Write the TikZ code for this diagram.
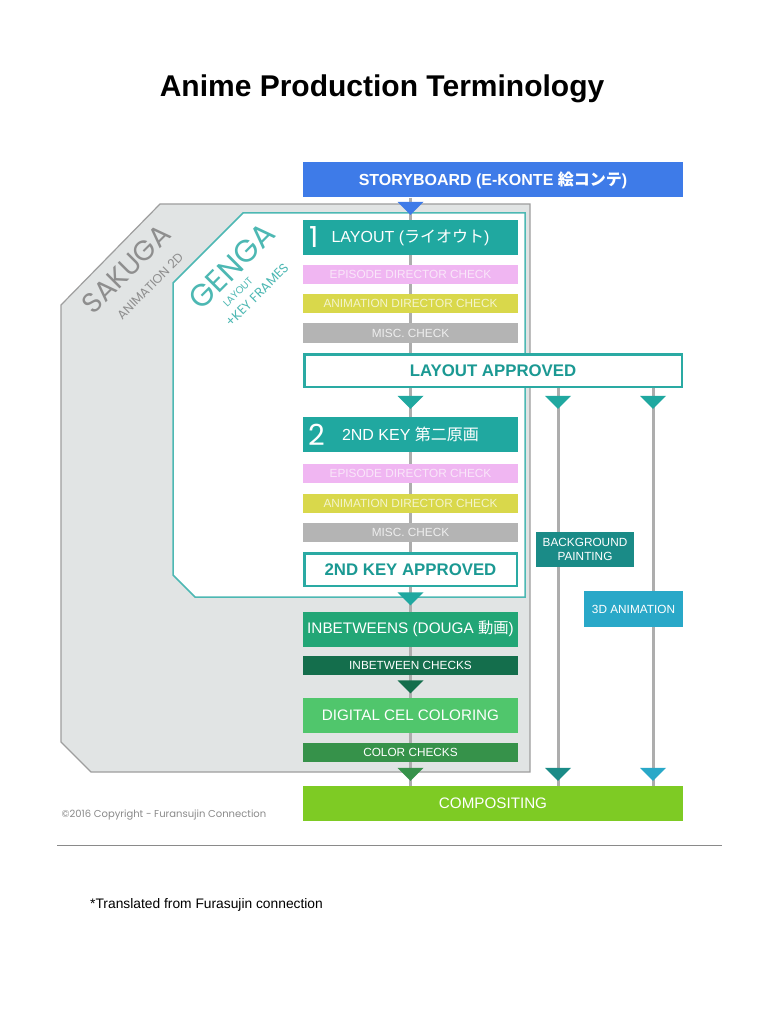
\documentclass[tikz,border=0pt]{standalone}
\usepackage{fontspec}
\setmainfont{Liberation Sans}
\newfontfamily\cjk{Noto Sans CJK JP}
\newfontfamily\geo{Poppins}
\usepackage{xcolor}
\usetikzlibrary{calc,positioning,backgrounds}

\definecolor{storyblue}{HTML}{3E7BE8}
\definecolor{layteal}{HTML}{20A8A0}
\definecolor{edcpink}{HTML}{F0B6F2}
\definecolor{edctext}{HTML}{F9E6F9}
\definecolor{adcyellow}{HTML}{D9D84B}
\definecolor{adctext}{HTML}{F4F4CC}
\definecolor{miscgrey}{HTML}{B4B4B4}
\definecolor{misctext}{HTML}{EEEEEE}
\definecolor{appteal}{HTML}{2AAAA3}
\definecolor{apptext}{HTML}{1B9993}
\definecolor{gengateal}{HTML}{4DB8B3}
\definecolor{inbgreen}{HTML}{22A676}
\definecolor{inbchk}{HTML}{146E4C}
\definecolor{celgreen}{HTML}{50C66C}
\definecolor{colchk}{HTML}{36924A}
\definecolor{compgreen}{HTML}{7ECB24}
\definecolor{bgteal}{HTML}{1A8B87}
\definecolor{animblue}{HTML}{29A8C8}
\definecolor{sakfill}{HTML}{E1E4E4}
\definecolor{sakline}{HTML}{9E9E9E}
\definecolor{sakgrey}{HTML}{8E8E8E}
\definecolor{flowgrey}{HTML}{ADADAD}
\definecolor{footgrey}{HTML}{8A8A8A}

\tikzset{
  stage/.style={rectangle, inner sep=0pt, minimum width=215pt, minimum height=35pt,
    text=white, font=\fontsize{16}{18}\selectfont},
  check/.style={rectangle, inner sep=0pt, minimum width=215pt, minimum height=19pt,
    font=\fontsize{11.8}{13}\selectfont},
  approved/.style={rectangle, draw=appteal, line width=2.5pt, fill=white, inner sep=0pt,
    minimum height=32.5pt, text=apptext, font=\bfseries\fontsize{16.8}{18}\selectfont},
  side/.style={rectangle, inner sep=0pt, minimum width=98pt, minimum height=35pt,
    text=white, align=center, font=\fontsize{11.8}{14}\selectfont},
  flow/.style={draw=flowgrey, line width=3pt},
  bignum/.style={anchor=west, text=white, inner sep=0pt, font=\geo\fontsize{29}{29}\selectfont},
  arealabel/.style={rotate=45, inner sep=0pt},
}

\begin{document}
\begin{tikzpicture}[x=1pt,y=-1pt]
\useasboundingbox (0,0) rectangle (768,1024);

\node[anchor=base, font=\bfseries\fontsize{30}{32}\selectfont] (title) at (382,97) {Anime Production Terminology};

% main column
\node[stage, minimum width=380pt, fill=storyblue, font=\bfseries\fontsize{16}{18}\selectfont] (story) at (493,180) {STORYBOARD (E-KONTE {\cjk\bfseries 絵コンテ})};
\node[stage, fill=layteal] (lay) at (410.5,237.5) {LAYOUT ({\cjk ライオウト})};
\node[bignum] (n1) at (309,237.5) {1};
\node[check, fill=edcpink, text=edctext] (edc1) at (410.5,274.5) {EPISODE DIRECTOR CHECK};
\node[check, fill=adcyellow, text=adctext] (adc1) at (410.5,303.5) {ANIMATION DIRECTOR CHECK};
\node[check, fill=miscgrey, text=misctext, minimum height=20pt] (misc1) at (410.5,333) {MISC. CHECK};
\node[approved, minimum width=377.5pt] (lapp) at (493,370.5) {LAYOUT APPROVED};

\node[stage, fill=layteal] (key2) at (410.5,434.5) {2ND KEY {\cjk 第二原画}};
\node[bignum] (n2) at (308,434.5) {2};
\node[check, fill=edcpink, text=edctext] (edc2) at (410.5,473.5) {EPISODE DIRECTOR CHECK};
\node[check, fill=adcyellow, text=adctext] (adc2) at (410.5,503.5) {ANIMATION DIRECTOR CHECK};
\node[check, fill=miscgrey, text=misctext] (misc2) at (410.5,532.5) {MISC. CHECK};
\node[approved, minimum width=212.5pt] (kapp) at (410.5,569.5) {2ND KEY APPROVED\hspace{12pt}};

\node[stage, fill=inbgreen, font=\fontsize{15.3}{17}\selectfont] (inb) at (410.5,629) {INBETWEENS (DOUGA {\cjk 動画})};
\node[check, fill=inbchk, text=white] (inbc) at (410.5,665.5) {INBETWEEN CHECKS};
\node[stage, fill=celgreen, font=\fontsize{15.2}{17}\selectfont] (cel) at (410.5,715) {DIGITAL CEL COLORING};
\node[check, fill=colchk, text=white] (colc) at (410.5,752.5) {COLOR CHECKS};
\node[stage, minimum width=380pt, fill=compgreen, font=\fontsize{15.2}{17}\selectfont] (comp) at (493,803.5) {COMPOSITING};

% side branches
\node[side, fill=bgteal] (bg) at (585,549.5) {BACKGROUND\\PAINTING};
\node[side, fill=animblue, minimum width=99pt, minimum height=36pt] (anim) at (633.5,609) {3D ANIMATION};
\coordinate (bgx) at (558,0);
\coordinate (animx) at (653,0);

% area labels
\node[arealabel, text=sakgrey, font=\geo\fontsize{28}{28}\selectfont] (sak) at (126,269) {SAKUGA};
\node[arealabel, text=sakgrey, font=\geo\fontsize{12.5}{12.5}\selectfont] (sakan) at (150,286) {ANIMATION 2D};
\node[arealabel, text=gengateal, font=\geo\fontsize{31}{31}\selectfont] (gen) at (232,266) {GENGA};
\node[arealabel, text=gengateal, font=\geo\fontsize{10}{10}\selectfont] (genl) at (238,292) {LAYOUT};
\node[arealabel, text=gengateal, font=\geo\fontsize{13}{13}\selectfont] (genkf) at (257,295) {+KEY FRAMES};

\begin{scope}[on background layer]
  \fill[white] (0,0) rectangle (768,1024);
  \filldraw[fill=sakfill, draw=sakline, line width=1.2pt] (160,204) -- (530,204) -- (530,772) -- (91,772) -- (61,742) -- (61,305) -- cycle;
  \filldraw[fill=white, draw=gengateal, line width=1.5pt] (243,213) -- (525,213) -- (525,597) -- (195,597) -- (173,575) -- (173,283) -- cycle;
  \draw[flow] (story.south -| lay) -- (comp.north -| lay);
  \draw[flow] (lapp.south -| bgx) -- (comp.north -| bgx);
  \draw[flow] (lapp.south -| animx) -- (comp.north -| animx);
\end{scope}

% arrow heads
\fill[storyblue] ($(lay.north)+(0,-5)$) -- ++(-13,-13) -- ++(26,0) -- cycle;
\fill[layteal] ($(key2.north)+(0,-8)$) -- ++(-13,-13) -- ++(26,0) -- cycle;
\fill[layteal] ($(key2.north -| bgx)+(0,-8)$) -- ++(-13,-13) -- ++(26,0) -- cycle;
\fill[layteal] ($(key2.north -| animx)+(0,-8)$) -- ++(-13,-13) -- ++(26,0) -- cycle;
\fill[layteal] ($(inb.north)+(0,-6)$) -- ++(-13,-13) -- ++(26,0) -- cycle;
\fill[inbchk] ($(cel.north)+(0,-4)$) -- ++(-13,-13) -- ++(26,0) -- cycle;
\fill[colchk] ($(comp.north -| lay)+(0,-5)$) -- ++(-13,-13) -- ++(26,0) -- cycle;
\fill[bgteal] ($(comp.north -| bgx)+(0,-5)$) -- ++(-13,-13) -- ++(26,0) -- cycle;
\fill[animblue] ($(comp.north -| animx)+(0,-5)$) -- ++(-13,-13) -- ++(26,0) -- cycle;

% footer
\node[text=footgrey, font=\geo\fontsize{10}{12}\selectfont] (copy) at (164,815) {\textcopyright2016 Copyright - Furansujin Connection};
\draw[footgrey, line width=0.8pt] (57,845) -- (722,845);
\node[anchor=west, inner sep=0pt, font=\fontsize{13.8}{16}\selectfont] (note) at (90,905) {*Translated from Furasujin connection};
\end{tikzpicture}
\end{document}
